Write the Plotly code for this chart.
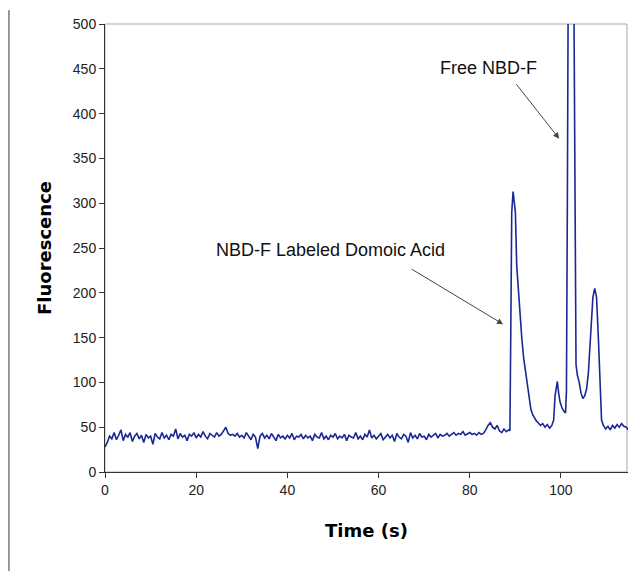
import plotly.graph_objects as go

# ---- data ----
time_s = [
    0, 0.5, 1, 1.5, 2, 2.5, 3, 3.5, 4, 4.5,
    5, 5.5, 6, 6.5, 7, 7.5, 8, 8.5, 9, 9.5,
    10, 10.5, 11, 11.5, 12, 12.5, 13, 13.5, 14, 14.5,
    15, 15.5, 16, 16.5, 17, 17.5, 18, 18.5, 19, 19.5,
    20, 20.5, 21, 21.5, 22, 22.5, 23, 23.5, 24, 24.5,
    25, 25.5, 26, 26.5, 27, 27.5, 28, 28.5, 29, 29.5,
    30, 30.5, 31, 31.5, 32, 32.5, 33, 33.5, 34, 34.5,
    35, 35.5, 36, 36.5, 37, 37.5, 38, 38.5, 39, 39.5,
    40, 40.5, 41, 41.5, 42, 42.5, 43, 43.5, 44, 44.5,
    45, 45.5, 46, 46.5, 47, 47.5, 48, 48.5, 49, 49.5,
    50, 50.5, 51, 51.5, 52, 52.5, 53, 53.5, 54, 54.5,
    55, 55.5, 56, 56.5, 57, 57.5, 58, 58.5, 59, 59.5,
    60, 60.5, 61, 61.5, 62, 62.5, 63, 63.5, 64, 64.5,
    65, 65.5, 66, 66.5, 67, 67.5, 68, 68.5, 69, 69.5,
    70, 70.5, 71, 71.5, 72, 72.5, 73, 73.5, 74, 74.5,
    75, 75.5, 76, 76.5, 77, 77.5, 78, 78.5, 79, 79.5,
    80, 80.5, 81, 81.5, 82, 82.5, 83, 83.5, 84, 84.5,
    85, 85.5, 86, 86.5, 87, 87.5, 88, 88.5, 88.8, 89.0,
    89.2, 89.5, 89.8, 90.0, 90.3, 90.6, 91.0, 91.4, 91.8, 92.2,
    92.6, 93.0, 93.4, 93.8, 94.2, 94.6, 95.0, 95.5, 96.0, 96.5,
    97.0, 97.5, 98.0, 98.4, 98.7, 99.0, 99.2, 99.5, 99.8, 100.2,
    100.6, 101.0, 101.2, 101.4, 101.6, 102.8, 103.0, 103.3, 103.6, 104.0,
    104.4, 104.8, 105.2, 105.6, 106.0, 106.5, 107.0, 107.4, 107.8, 108.2,
    108.6, 108.9, 109.3, 109.8, 110.3, 110.8, 111.3, 111.8, 112.3, 112.8,
    113.3, 113.8, 114.3, 114.8, 115.0,
]

fluorescence = [
    28, 33, 40, 37, 44, 36, 41, 47, 35, 42,
    39, 44, 34, 40, 43, 37, 41, 33, 42, 38,
    40, 31, 43, 39, 37, 44, 38, 41, 36, 42,
    40, 48, 37, 43, 39, 41, 35, 42, 40, 44,
    38, 42, 39, 45, 40, 37, 43, 41, 39, 44,
    40, 42, 46, 50, 43, 41, 42, 40, 43, 39,
    41, 38, 44, 40, 36, 42, 39, 26, 40, 43,
    38, 41, 37, 43, 39, 35, 42, 38, 40, 37,
    41, 38, 43, 36, 40, 39, 42, 37, 41, 38,
    40, 35, 42, 39, 38, 44, 37, 40, 36, 41,
    39, 43, 37, 40, 38, 42, 35, 41, 39, 38,
    44, 37, 40, 36, 42, 39, 47, 38, 41, 37,
    40, 43, 36, 39, 42, 38, 41, 34, 43, 39,
    37, 42, 40, 33, 44, 38, 41, 37, 43, 39,
    40, 36, 42, 39, 41, 43, 38, 42, 40, 41,
    43, 40, 42, 44, 41, 43, 42, 45, 41, 43,
    44, 42, 43, 41, 44, 42, 43, 47, 52, 55,
    50, 48, 52, 46, 44, 48, 45, 47, 46, 160,
    290, 313, 298, 290, 230, 205, 175, 150, 128, 112,
    98, 82, 70, 64, 60, 57, 55, 52, 54, 50,
    53, 49, 52, 58, 85, 98, 101, 88, 78, 72,
    68, 66, 90, 300, 560, 560, 300, 120, 108, 100,
    88, 82, 85, 92, 110, 160, 195, 205, 195, 150,
    90, 58, 52, 48, 51, 47, 52, 49, 53, 50,
    54, 51, 50, 47, 46,
]

x_ticks = [0, 20, 40, 60, 80, 100]
y_ticks = [0, 50, 100, 150, 200, 250, 300, 350, 400, 450, 500]

label_free = "Free NBD-F"
label_labeled = "NBD-F Labeled Domoic Acid"

fig = go.Figure()
fig.add_trace(go.Scatter(
    x=time_s, y=fluorescence, mode="lines",
    line=dict(color="#1a2896", width=1.6),
    showlegend=False, hoverinfo="skip",
))

# light-grey frame of the plot area (top/right)
fig.add_shape(type="rect", xref="paper", yref="paper", x0=0, x1=0.998, y0=0, y1=1,
              line=dict(color="#a8a8a8", width=1), layer="below")
# page border line at left
fig.add_shape(type="line", xref="paper", yref="paper", x0=-0.1836, x1=-0.1836,
              y0=-0.23, y1=1.031, line=dict(color="#333333", width=1))

font_ann = dict(family="Liberation Sans, Arial, sans-serif", size=18, color="#111111")
fig.add_annotation(x=84.0, y=451, xref="x", yref="y", text=label_free,
                   showarrow=False, font=font_ann)
fig.add_annotation(x=49.5, y=248, xref="x", yref="y", text=label_labeled,
                   showarrow=False, font=font_ann)
fig.add_annotation(x=99.6, y=372, xref="x", yref="y", text="", showarrow=True,
                   ax=-44, ay=-56, arrowhead=2, arrowsize=1.2, arrowwidth=1,
                   arrowcolor="#444444", standoff=0)
fig.add_annotation(x=87.3, y=165, xref="x", yref="y", text="", showarrow=True,
                   ax=-93, ay=-56, arrowhead=2, arrowsize=1.2, arrowwidth=1,
                   arrowcolor="#444444", standoff=0)

tick_font = dict(family="Liberation Sans, Arial, sans-serif", size=14, color="#222222")
title_font = dict(family="DejaVu Sans, sans-serif", size=18, color="#000000")

fig.update_xaxes(range=[0, 114.7], tickvals=x_ticks, ticks="outside", ticklen=5,
                 tickcolor="#333333", showline=True, linecolor="#333333", linewidth=1,
                 showgrid=False, zeroline=False, tickfont=tick_font, automargin=False,
                 title=dict(text="<b>Time (s)</b>", font=title_font, standoff=27))
fig.update_yaxes(range=[0, 500], tickvals=y_ticks, ticks="outside", ticklen=5,
                 tickcolor="#333333", showline=True, linecolor="#333333", linewidth=1,
                 showgrid=False, zeroline=False, tickfont=tick_font, automargin=False,
                 title=dict(text="<b>Fluorescence</b>", font=title_font, standoff=16))

fig.update_layout(
    width=629, height=571,
    margin=dict(l=105, r=1, t=24, b=99),
    plot_bgcolor="white", paper_bgcolor="white",
)

fig.write_html("out.html", config={"displayModeBar": False},
               post_script="document.body.style.margin='0px';document.body.style.overflow='hidden';")
